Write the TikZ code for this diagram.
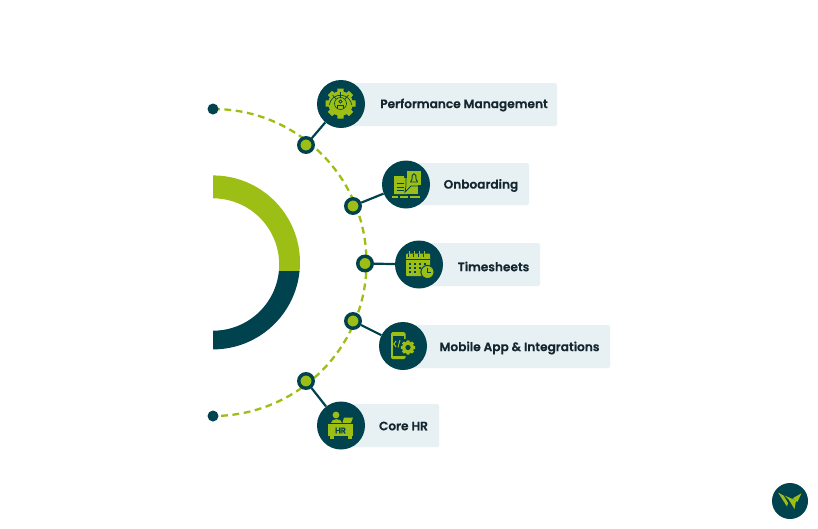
\documentclass[tikz,border=0pt]{standalone}
\usepackage{fontspec}
\setmainfont{Poppins}[BoldFont={Poppins SemiBold},BoldFeatures={FakeBold=0.35}]
\definecolor{dk}{HTML}{01424F}
\definecolor{gr}{HTML}{9DBF15}
\definecolor{lab}{HTML}{E7F0F3}
\definecolor{txt}{HTML}{14262F}
\tikzset{
  labelbox/.style={fill=lab,rounded corners=2pt},
  hub/.style={circle,fill=dk,minimum size=48pt,inner sep=0pt},
  joint/.style={circle,draw=dk,line width=3.4pt,fill=gr,minimum size=14.5pt,inner sep=0pt},
  enddot/.style={circle,fill=dk,minimum size=11pt,inner sep=0pt},
  caption/.style={font=\fontsize{12.15}{14}\selectfont\bfseries,text=txt,inner sep=0pt},
  spoke/.style={draw=dk,line width=2.2pt},
  dk line/.style={draw=dk,line width=0.65pt},
}
\newcommand{\gearshape}[4]{% cx cy r color
  \fill[#4] (#1,#2) circle (#3*0.82);
  \foreach \a in {0,45,...,315}{
    \fill[#4,shift={(#1,#2)},rotate=\a] (-#3*0.28,0) -- (-#3*0.2,#3) -- (#3*0.2,#3) -- (#3*0.28,0) -- cycle;
  }
}
\begin{document}
\begin{tikzpicture}[x=1pt,y=-1pt]
\useasboundingbox (0,0) rectangle (818,528);
\fill[white] (0,0) rectangle (818,528);
% ring
\fill[gr] (213,175.4) arc[start angle=-90,end angle=5.67,radius=87] -- (278.9,271) arc[start angle=5.63,end angle=-90,radius=66.2] -- cycle;
\fill[dk] (213,349.4) arc[start angle=90,end angle=5.67,radius=87] -- (278.9,271) arc[start angle=5.63,end angle=90,radius=66.2] -- cycle;
% dashed arc
\coordinate (c1) at (213,109);
\coordinate (c2) at (213,416);
\draw[gr,line width=2.3pt,dash pattern=on 6.8pt off 4.6pt] (c1) arc[start angle=-90,end angle=90,radius=153.5];
\node[enddot] (e1) at (c1) {};
\node[enddot] (e2) at (c2) {};
% label boxes
\fill[labelbox] (341,83) rectangle (557,126);
\fill[labelbox] (406,163) rectangle (529,205);
\fill[labelbox] (419,243) rectangle (540,286);
\fill[labelbox] (403,325) rectangle (610,368);
\fill[labelbox] (341,404) rectangle (439,447);
\node[hub] (h1) at (341,104) {};
\node[hub] (h2) at (406,184.5) {};
\node[hub] (h3) at (419,264.5) {};
\node[hub] (h4) at (403,346) {};
\node[hub] (h5) at (341,425.5) {};
\node[joint] (j1) at (306,145) {};
\node[joint] (j2) at (353,206) {};
\node[joint] (j3) at (365,263.5) {};
\node[joint] (j4) at (353,321) {};
\node[joint] (j5) at (306,381) {};
\foreach \i in {1,...,5}{\draw[spoke] (j\i) -- (h\i);}
% captions
\node[caption] (t1) at (464,105) {Performance Management};
\node[caption] (t2) at (481,185.5) {Onboarding};
\node[caption] (t3) at (493.5,266.5) {Timesheets};
\node[caption] (t4) at (519.5,348) {Mobile App \& Integrations};
\node[caption] (t5) at (403.5,426) {Core HR};
% icon 1: gear with person
\gearshape{340.5}{103.5}{15}{gr}
\draw[dk line] (329.2,105) arc[start angle=-172,end angle=-8,radius=11.4];
\draw[dk line] (340.5,103.5) circle (6);
\draw[dk line] (340.5,92) -- (340.5,97.5);
\draw[dk line] (332.5,95) -- (336,99);
\draw[dk line] (348.5,95) -- (345,99);
\draw[dk line] (340.5,101.5) circle (1.6);
\draw[dk line] (337.5,107.5) -- (337.5,105.5) -- (343.5,105.5) -- (343.5,107.5);
% icon 2: onboarding
\fill[gr] (394,176) -- (404,176) -- (404,178) -- (407,178) -- (407,194) -- (394,194) -- cycle;
\fill[gr] (407,178) rectangle (418,194);
\draw[dk,line width=0.8pt] (406,170) -- (422,170) -- (422,186) -- (411,186) -- (405,192) -- (406,186) -- cycle;
\fill[gr] (407,171) rectangle (421,185);
\fill[gr] (407,184) -- (410.5,185) -- (406,190) -- cycle;
\draw[dk,line width=0.9pt,line join=round] (410.5,182) -- (417.5,182) -- (416,179) -- (415.8,175.5) arc[start angle=0,end angle=-180,radius=1.8] -- (412,179) -- cycle;
\foreach \y in {183.5,187,190.5}{\draw[dk,line width=1pt] (397,\y) -- (403.5,\y);}
\fill[gr] (392,196) rectangle (398,198.4);
\fill[gr] (400,196) rectangle (408,198.4);
\fill[gr] (410,196) rectangle (420,198.4);
% icon 3: calendar
\fill[gr,rounded corners=1pt] (406,253.5) rectangle (430,276);
\foreach \x in {409.5,414.5,419.5,424.5}{\fill[gr] (\x-0.9,251) rectangle (\x+0.9,256);\draw[dk,line width=.5pt] (\x-1.3,253.5) -- (\x-1.3,256.5);}
\fill[dk] (406,259) rectangle (430,260);
\foreach \x/\y in {410/264,415/264,420/264,425/264,410/268,415/268,420/268,410/272,415/272}{\fill[dk] (\x-1.3,\y-.8) rectangle (\x+1.3,\y+.8);}
\fill[gr,draw=dk,line width=1pt] (427.5,272) circle (6.6);
\draw[dk,line width=1pt] (427.5,268) -- (427.5,272.4) -- (431,272.4);
% icon 4: phone
\fill[gr,rounded corners=1.5pt] (391,332) rectangle (405.5,359);
\fill[dk] (393,335.5) rectangle (403.5,355.5);
\draw[gr,line width=1pt] (396,341) -- (393.8,344) -- (396,347);
\draw[gr,line width=1pt] (400,340) -- (398,347.5);
\draw[gr,line width=1pt] (402,341) -- (404.2,344) -- (402,347);
\fill[dk] (408,347.5) circle (9);
\gearshape{408}{347.5}{7.2}{gr}
\fill[dk] (408,347.5) circle (2.6);
% icon 5: desk
\fill[gr] (328,424) rectangle (353,436);
\fill[gr] (330,436) rectangle (333.5,438.5);
\fill[gr] (348,436) rectangle (351.5,438.5);
\fill[gr] (336,415) circle (3.4);
\fill[gr] (330.5,422.8) .. controls (330.5,417.5) and (341.5,417.5) .. (341.5,422.8) -- cycle;
\fill[gr] (344,417.5) -- (353,417.5) -- (351,422.8) -- (342.5,422.8) -- cycle;
\node[font=\fontsize{8}{9}\selectfont\bfseries,text=dk,inner sep=0pt] (hr) at (340.5,430.5) {HR};
% logo
\node[circle,fill=dk,minimum size=36pt,inner sep=0pt] (logo) at (790,501) {};
\fill[gr] (778,492.5) -- (783.5,495.5) -- (788,503) -- (787,506.5) -- cycle;
\fill[gr] (784.5,495.5) -- (796,500.5) -- (794.5,509) -- (789,500) -- cycle;
\fill[gr] (792.7,498.3) -- (801.5,493.3) -- (797.3,502) -- cycle;
\end{tikzpicture}
\end{document}
